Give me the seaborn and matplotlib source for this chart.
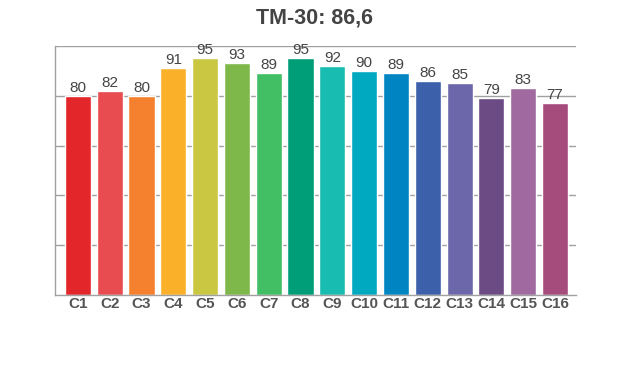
import matplotlib
matplotlib.use("Agg")
import matplotlib.pyplot as plt
import seaborn as sns
import pandas as pd

categories = ["C1", "C2", "C3", "C4", "C5", "C6", "C7", "C8",
              "C9", "C10", "C11", "C12", "C13", "C14", "C15", "C16"]
values = [80, 82, 80, 91, 95, 93, 89, 95, 92, 90, 89, 86, 85, 79, 83, 77]
colors = ["#E3262A", "#E84B50", "#F5802E", "#FBB02A", "#CAC843", "#7EB84A",
          "#42BE64", "#009E78", "#18BCB0", "#00A8C0", "#0085C3", "#3C60AA",
          "#6C67AA", "#6C4A84", "#A06AA0", "#A64C7C"]
title = "TM-30: 86,6"

sns.set_theme(style="white")
plt.rcParams["font.family"] = ["Liberation Sans", "DejaVu Sans"]

df = pd.DataFrame({"cat": categories, "val": values})

fig = plt.figure(figsize=(6.2, 3.7), dpi=100)
ax = fig.add_axes([0.0887, 0.2027, 0.8403, 0.673])

sns.barplot(data=df, x="cat", y="val", hue="cat", palette=colors,
            legend=False, width=0.82, ax=ax, saturation=1, zorder=2)

ax.set_ylim(0, 100)
ax.set_xlim(-0.72, len(categories) - 1 + 0.66)
ax.set_yticks([20, 40, 60, 80, 100])
ax.set_yticklabels([])
ax.tick_params(axis="y", length=0)
ax.tick_params(axis="x", length=0, pad=1.5)
ax.yaxis.grid(True, color="#A0A0A0", linewidth=1.0, zorder=0)
ax.set_axisbelow(True)
for lbl in ax.get_xticklabels():
    lbl.set_fontweight("bold")
    lbl.set_fontsize(11)
    lbl.set_color("#555555")
ax.set_xlabel("")
ax.set_ylabel("")

for s in ["right", "top"]:
    ax.spines[s].set_visible(False)
for s in ["left", "bottom"]:
    ax.spines[s].set_color("#A0A0A0")
    ax.spines[s].set_linewidth(1.0)

for i, v in enumerate(values):
    ax.text(i, v + 0.4, f"{v}", ha="center", va="bottom", fontsize=11,
            color="#444444")

fig.text(0.507, 0.952, title, ha="center", va="center", fontsize=15.5,
         fontweight="bold", color="#444444")

fig.savefig("out.png", dpi=100)
